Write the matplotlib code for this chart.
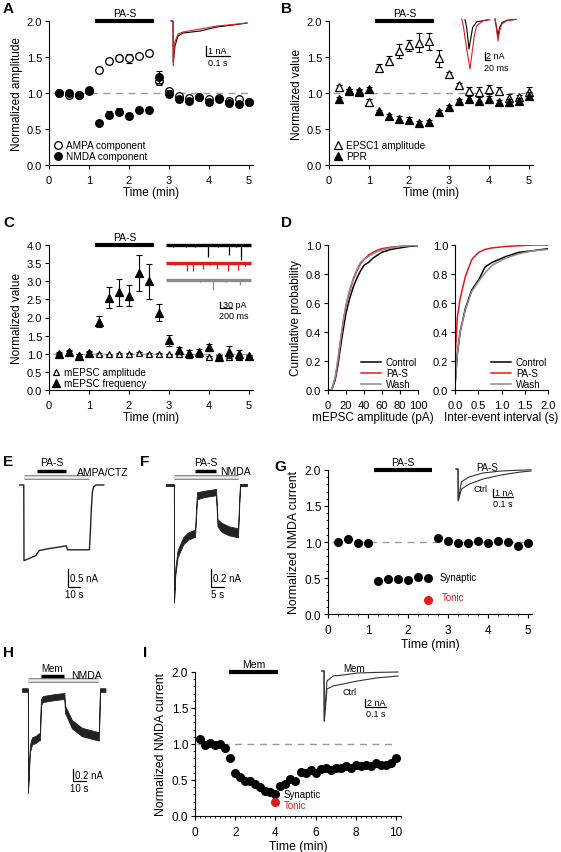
import matplotlib
matplotlib.use('Agg')
import matplotlib.pyplot as plt
from matplotlib.ticker import MultipleLocator, FormatStrFormatter

plt.rcParams['font.family'] = ['Liberation Sans', 'DejaVu Sans']
plt.rcParams['axes.linewidth'] = 0.8

W, H = 561, 853
RED = '#e31a1c'
GREY = '#8c8c8c'
TICK_FS = 8
LAB_FS = 8.5

# ---------------- data ----------------
t_min = [0.25, 0.5, 0.75, 1.0, 1.25, 1.5, 1.75, 2.0, 2.25, 2.5,
         2.75, 3.0, 3.25, 3.5, 3.75, 4.0, 4.25, 4.5, 4.75, 5.0]
pas_period = [1.15, 2.62]

# A
ampa_A = [1.00, 0.97, 0.97, 1.03, 1.32, 1.44, 1.49, 1.48, 1.51, 1.55,
          1.16, 1.03, 0.96, 0.93, 0.95, 0.91, 0.93, 0.89, 0.91, 0.88]
ampa_A_err = [0.02, 0.03, 0.03, 0.02, 0.04, 0.04, 0.04, 0.06, 0.03, 0.03,
              0.05, 0.04, 0.03, 0.02, 0.02, 0.02, 0.02, 0.03, 0.02, 0.02]
nmda_A = [1.00, 1.00, 0.97, 1.04, 0.59, 0.70, 0.74, 0.68, 0.76, 0.76,
          1.22, 0.99, 0.91, 0.89, 0.94, 0.87, 0.92, 0.86, 0.85, 0.88]
nmda_A_err = [0.02, 0.03, 0.03, 0.03, 0.02, 0.05, 0.05, 0.04, 0.03, 0.03,
              0.08, 0.05, 0.03, 0.03, 0.03, 0.03, 0.03, 0.03, 0.03, 0.02]
# A inset (s, nA)
insA_t = [-0.008, 0.0, 0.001, 0.008, 0.021, 0.042, 0.113, 0.183, 0.25, 0.308]
insA_ctrl = [0.0, 0.0, -4.1, -2.5, -1.5, -1.2, -1.0, -0.6, -0.4, -0.2]
insA_pas = [0.0, 0.0, -4.5, -2.1, -1.3, -1.1, -0.8, -0.5, -0.35, -0.2]

# B
epsc1_B = [1.08, 1.03, 1.02, 0.88, 1.35, 1.45, 1.58, 1.66, 1.70, 1.72,
           1.48, 1.26, 1.11, 1.03, 1.02, 1.05, 1.03, 0.93, 0.94, 1.01]
epsc1_B_err = [0.03, 0.02, 0.02, 0.04, 0.05, 0.06, 0.10, 0.08, 0.13, 0.12,
               0.12, 0.03, 0.03, 0.06, 0.07, 0.06, 0.06, 0.05, 0.03, 0.08]
ppr_B = [0.91, 1.04, 1.03, 1.05, 0.75, 0.68, 0.64, 0.63, 0.59, 0.60,
         0.74, 0.80, 0.89, 0.92, 0.89, 0.91, 0.87, 0.87, 0.89, 0.96]
ppr_B_err = [0.03, 0.02, 0.02, 0.03, 0.02, 0.03, 0.04, 0.03, 0.02, 0.03,
             0.02, 0.03, 0.03, 0.04, 0.06, 0.05, 0.03, 0.05, 0.04, 0.05]
# B inset (ms, nA): two EPSCs per sweep
insB_t1_pas = [-1.3, 5.3, 18.7, 32, 38.7, 49, 58.7, 85, 112]
insB_i1_pas = [0.0, -1.7, -7.5, -12.5, -9.2, -4.2, -1.7, -0.4, -0.2]
insB_t1_ctrl = [12, 18.7, 28, 34.7, 42.7, 58.7, 105]
insB_i1_ctrl = [-0.2, -2.1, -7.5, -5.0, -2.1, -0.7, -0.2]
insB_t2 = [132, 138, 144, 150, 160, 180, 216]
insB_i2_pas = [0.0, -2.5, -5.5, -3.0, -1.2, -0.4, -0.1]
insB_i2_ctrl = [0.0, -2.0, -4.25, -2.2, -0.9, -0.3, -0.1]

# C
amp_C = [1.00, 1.05, 0.97, 1.02, 0.99, 0.98, 0.99, 1.00, 1.02, 0.99,
         1.00, 0.98, 0.99, 0.97, 1.00, 0.90, 0.93, 0.92, 0.92, 0.93]
amp_C_err = [0.02, 0.02, 0.02, 0.02, 0.02, 0.02, 0.02, 0.02, 0.02, 0.02,
             0.02, 0.02, 0.02, 0.02, 0.02, 0.03, 0.02, 0.02, 0.03, 0.02]
freq_C = [1.00, 1.06, 0.95, 1.03, 1.88, 2.55, 2.70, 2.60, 3.22, 3.00,
          2.13, 1.37, 1.10, 1.03, 1.06, 1.18, 0.92, 1.05, 0.98, 0.93]
freq_C_err = [0.04, 0.03, 0.04, 0.05, 0.15, 0.30, 0.37, 0.29, 0.50, 0.48,
              0.24, 0.16, 0.08, 0.07, 0.07, 0.10, 0.05, 0.17, 0.12, 0.04]
# C inset: mEPSC events (ms, pA)
sweep_C = [0, 1420]
ev_ctrl_t = [120, 330, 480, 705, 860, 1055, 1160, 1250]
ev_ctrl_a = [8, 10, 8, 60, 10, 50, 8, 75]
ev_pas_t = [150, 350, 450, 620, 740, 850, 1035, 1200, 1320]
ev_pas_a = [10, 40, 40, 30, 12, 30, 40, 35, 15]
ev_wash_t = [300, 560, 785, 1000, 1235]
ev_wash_a = [6, 8, 50, 8, 25]

# D
amp_x = [0, 4, 8, 11, 14, 17, 20, 24, 28, 32, 36, 40, 45, 50, 55, 60, 70, 80, 90, 100]
cdf_amp_ctrl = [0, 0, 0.07, 0.17, 0.30, 0.42, 0.53, 0.63, 0.71, 0.77, 0.82, 0.86,
                0.88, 0.91, 0.93, 0.95, 0.97, 0.98, 0.99, 0.995]
cdf_amp_pas = [0, 0, 0.08, 0.20, 0.34, 0.47, 0.58, 0.68, 0.76, 0.82, 0.87, 0.90,
               0.93, 0.95, 0.965, 0.975, 0.985, 0.99, 0.995, 1.0]
cdf_amp_wash = [0, 0, 0.09, 0.21, 0.35, 0.48, 0.59, 0.69, 0.77, 0.83, 0.88, 0.90,
                0.92, 0.94, 0.955, 0.965, 0.98, 0.99, 0.995, 0.998]
iei_x = [0.0, 0.05, 0.11, 0.22, 0.36, 0.51, 0.65, 0.80, 1.09, 1.38, 1.67, 2.0]
cdf_iei_ctrl = [0.03, 0.25, 0.40, 0.56, 0.69, 0.76, 0.85, 0.88, 0.92, 0.95, 0.96, 0.975]
cdf_iei_pas = [0.21, 0.50, 0.63, 0.78, 0.90, 0.95, 0.97, 0.98, 0.99, 0.995, 1.0, 1.0]
cdf_iei_wash = [0.03, 0.24, 0.40, 0.55, 0.68, 0.75, 0.81, 0.86, 0.91, 0.94, 0.96, 0.97]

# E (s, nA)
e_ampa_period = [0.0, 54.5]
e_pas_period = [10.8, 35.0]
e_t = [-3.6, -0.2, 0.0, 3.0, 9.8, 11.0, 12.8, 20.0, 30.0, 35.2, 36.3, 40.0, 54.5,
       55.3, 56.2, 57.0, 58.0, 60.0, 66.5]
e_i = [0.0, 0.0, -2.10, -2.06, -1.96, -1.90, -1.82, -1.77, -1.72, -1.69, -1.80, -1.80,
       -1.80, -1.30, -0.60, -0.20, -0.05, 0.0, 0.0]

# F (s, nA) noisy trace envelope
f_nmda_period = [0.0, 25.6]
f_pas_period = [8.4, 16.8]
f_t = [-3.2, -0.05, 0.0, 0.5, 1.4, 2.3, 3.7, 5.5, 8.0, 8.4, 9.2, 12.0, 16.6, 16.8,
       17.4, 19.0, 22.0, 25.4, 25.6, 26.4, 29.2]
f_upper = [0.012, 0.012, -1.29, -0.93, -0.73, -0.67, -0.58, -0.53, -0.50, -0.50,
           -0.08, -0.065, -0.045, -0.045, -0.38, -0.42, -0.46, -0.48, -0.48, 0.012, 0.012]
f_lower = [-0.012, -0.012, -1.31, -1.01, -0.81, -0.75, -0.66, -0.61, -0.58, -0.58,
           -0.16, -0.135, -0.115, -0.115, -0.46, -0.52, -0.56, -0.58, -0.58, -0.012, -0.012]

# G
g_t_ctrl = [0.25, 0.5, 0.75, 1.0]
g_ctrl = [1.00, 1.04, 0.98, 0.99]
g_t_syn = [1.25, 1.5, 1.75, 2.0, 2.25, 2.5]
g_syn = [0.46, 0.49, 0.49, 0.47, 0.51, 0.50]
g_t_wash = [2.75, 3.0, 3.25, 3.5, 3.75, 4.0, 4.25, 4.5, 4.75, 5.0]
g_wash = [1.06, 1.02, 0.98, 0.99, 1.01, 0.98, 1.01, 1.00, 0.95, 0.99]
g_wash_err = [0.03, 0.02, 0.01, 0.01, 0.01, 0.01, 0.01, 0.01, 0.02, 0.01]
g_tonic = [2.5, 0.19]
g_pas_period = [1.15, 2.6]
insG_t = [-0.01, 0.0, 0.001, 0.0175, 0.055, 0.125, 0.215, 0.305, 0.365]
insG_ctrl = [0.0, 0.0, -4.0, -2.5, -1.9, -1.25, -0.75, -0.4, -0.25]
insG_pas = [0.0, 0.0, -3.9, -1.6, -1.0, -0.5, -0.25, -0.15, -0.1]

# H (s, nA)
h_nmda_period = [0.0, 53.8]
h_mem_period = [10.0, 27.7]
h_t = [-4.6, -0.05, 0.0, 1.5, 3.1, 6.2, 8.5, 9.2, 10.0, 11.5, 20.0, 27.7, 28.0,
       28.5, 33.8, 41.5, 53.8, 54.6, 55.4, 59.6]
h_upper = [0.03, 0.03, -1.68, -0.92, -0.79, -0.76, -0.72, -0.72, -0.15, -0.10, -0.07,
           -0.05, -0.05, -0.26, -0.50, -0.63, -0.70, -0.70, 0.03, 0.03]
h_lower = [-0.03, -0.03, -1.72, -1.04, -0.91, -0.88, -0.84, -0.84, -0.25, -0.20, -0.17,
           -0.15, -0.15, -0.38, -0.64, -0.77, -0.84, -0.84, -0.03, -0.03]

# I
i_t = [0.25, 0.5, 0.75, 1.0, 1.25, 1.5, 1.75, 2.0, 2.25, 2.5, 2.75, 3.0, 3.25, 3.5,
       3.75, 4.0, 4.25, 4.5, 4.75, 5.0, 5.25, 5.5, 5.75, 6.0, 6.25, 6.5, 6.75, 7.0,
       7.25, 7.5, 7.75, 8.0, 8.25, 8.5, 8.75, 9.0, 9.25, 9.5, 9.75, 10.0]
i_val = [1.07, 0.99, 1.01, 0.98, 1.00, 0.95, 0.80, 0.60, 0.54, 0.49, 0.48, 0.45,
         0.40, 0.35, 0.34, 0.30, 0.41, 0.44, 0.51, 0.49, 0.61, 0.60, 0.64, 0.60,
         0.65, 0.66, 0.64, 0.66, 0.67, 0.70, 0.67, 0.71, 0.70, 0.71, 0.69, 0.73,
         0.71, 0.71, 0.73, 0.80]
i_tonic = [4.0, 0.20]
i_mem_period = [1.7, 4.15]
insI_t = [-0.01, 0.0, 0.001, 0.014, 0.043, 0.09, 0.16, 0.248, 0.352]
insI_ctrl = [0.0, 0.0, -12.5, -4.5, -3.75, -3.25, -2.5, -1.75, -1.25]
insI_mem = [0.0, 0.0, -12.5, -2.5, -1.25, -1.0, -0.5, -0.35, -0.25]

# ---------------- helpers ----------------
fig = plt.figure(figsize=(W / 100, H / 100), dpi=100)


def box(l, t, r, b):
    return [l / W, 1 - b / H, (r - l) / W, (b - t) / H]


def main_axes(rect, xlim, ylim, xmaj, ymaj, xfmt, yfmt, fs=TICK_FS):
    ax = fig.add_axes(box(*rect))
    ax.set_xlim(xlim)
    ax.set_ylim(ylim)
    for s in ['top', 'right']:
        ax.spines[s].set_visible(False)
    ax.xaxis.set_major_locator(MultipleLocator(xmaj))
    ax.yaxis.set_major_locator(MultipleLocator(ymaj))
    ax.xaxis.set_major_formatter(FormatStrFormatter(xfmt))
    ax.yaxis.set_major_formatter(FormatStrFormatter(yfmt))
    ax.tick_params(labelsize=fs, length=3, width=0.8, pad=2)
    ax.tick_params(axis='x', pad=4)
    return ax


def inset(rect, xlim, ylim):
    ax = fig.add_axes(box(*rect))
    ax.set_xlim(xlim)
    ax.set_ylim(ylim)
    ax.axis('off')
    return ax


def stim_bar(ax, period, y, label, fs=7.5, lw=3):
    ax.plot(period, [y, y], color='k', lw=lw, solid_capstyle='butt', clip_on=False)
    ax.annotate(label, ((period[0] + period[1]) / 2, y), xytext=(0, 2.5),
                textcoords='offset points', ha='center', va='bottom', fontsize=fs)


def scalebar(ax, x0, y0, dx, dy, xl, yl, fs=6.5):
    ax.plot([x0, x0, x0 + dx], [y0 + dy, y0, y0], color='k', lw=0.9,
            solid_joinstyle='miter', clip_on=False)
    ax.annotate(yl, (x0, y0 + dy / 2), xytext=(1.5, 0), textcoords='offset points',
                ha='left', va='center', fontsize=fs)
    ax.annotate(xl, (x0 + dx / 2, y0), xytext=(0, -1.5), textcoords='offset points',
                ha='center', va='top', fontsize=fs)


def dashed_one(ax, x1):
    ax.plot([0.1, x1], [1, 1], color='0.6', lw=1, ls=(0, (5, 4)), zorder=1)


def letter(x, y, s):
    fig.text(x / W, 1 - y / H, s, fontsize=11, fontweight='bold', va='center', ha='left')


def errpts(ax, x, y, e, marker, filled, ms, label, z):
    ax.errorbar(x, y, yerr=e, fmt='none', ecolor='k', elinewidth=0.8, capsize=2,
                capthick=0.8, zorder=z)
    ax.plot(x, y, marker, ms=ms, mec='k', mew=0.9,
            mfc='k' if filled else 'white', ls='none', label=label, zorder=z + 0.5)


def legend_pts(ax):
    ax.legend(loc='lower left', frameon=False, fontsize=7.2, handlelength=0.9,
              handletextpad=0.4, labelspacing=0.1, borderpad=0.0, borderaxespad=0.4)


# ---------------- A ----------------
letter(3, 9, 'A')
axA = main_axes((49, 22, 253, 166), (0, 5.1), (0, 2.0), 1, 0.5, '%d', '%.1f')
dashed_one(axA, 5.0)
errpts(axA, t_min, ampa_A, ampa_A_err, 'o', False, 5.5, 'AMPA component', 3)
errpts(axA, t_min, nmda_A, nmda_A_err, 'o', True, 5.5, 'NMDA component', 4)
stim_bar(axA, pas_period, 2.0, 'PA-S')
axA.set_xlabel('Time (min)', fontsize=LAB_FS, labelpad=1)
axA.set_ylabel('Normalized amplitude', fontsize=LAB_FS, labelpad=3)
legend_pts(axA)
iA = inset((165, 15, 252, 72), (-0.0333, 0.329), (-5.0, 0.7))
iA.plot(insA_t, insA_ctrl, color='k', lw=0.8)
iA.plot(insA_t, insA_pas, color=RED, lw=0.8)
scalebar(iA, 0.1375, -3.5, 0.1, 1.0, '0.1 s', '1 nA')

# ---------------- B ----------------
letter(281, 9, 'B')
axB = main_axes((329, 22, 533, 166), (0, 5.1), (0, 2.0), 1, 0.5, '%d', '%.1f')
dashed_one(axB, 5.0)
errpts(axB, t_min, epsc1_B, epsc1_B_err, '^', False, 5.5, 'EPSC1 amplitude', 3)
errpts(axB, t_min, ppr_B, ppr_B_err, '^', True, 5.5, 'PPR', 4)
stim_bar(axB, pas_period, 2.0, 'PA-S')
axB.set_xlabel('Time (min)', fontsize=LAB_FS, labelpad=1)
axB.set_ylabel('Normalized value', fontsize=LAB_FS, labelpad=3)
legend_pts(axB)
iB = inset((455, 15, 520, 75), (-28, 232), (-13.75, 1.25))
iB.plot(insB_t1_ctrl, insB_i1_ctrl, color='k', lw=0.8)
iB.plot(insB_t1_pas, insB_i1_pas, color=RED, lw=0.8)
iB.plot(insB_t2, insB_i2_ctrl, color='k', lw=0.8)
iB.plot(insB_t2, insB_i2_pas, color=RED, lw=0.8)
iB.plot([92, 92, 112], [-8.25, -10.25, -10.25], color='k', lw=0.9)
iB.text(95, -9.2, '2 nA', fontsize=6.5, ha='left', va='center')
iB.text(88, -10.9, '20 ms', fontsize=6.5, ha='left', va='top')

# ---------------- C ----------------
letter(3, 223, 'C')
axC = main_axes((49, 246, 253, 391), (0, 5.1), (0, 4.0), 1, 0.5, '%d', '%.1f')
dashed_one(axC, 5.0)
errpts(axC, t_min, amp_C, amp_C_err, '^', False, 5.0, 'mEPSC amplitude', 3)
errpts(axC, t_min, freq_C, freq_C_err, '^', True, 5.5, 'mEPSC frequency', 4)
stim_bar(axC, pas_period, 4.0, 'PA-S')
axC.set_xlabel('Time (min)', fontsize=LAB_FS, labelpad=1)
axC.set_ylabel('Normalized value', fontsize=LAB_FS, labelpad=3)
axC.legend(loc='lower left', frameon=False, fontsize=7.2, handlelength=0.9,
           handletextpad=0.4, labelspacing=0.05, borderpad=0.0, borderaxespad=0.2)
iC = inset((160, 235, 255, 325), (-100, 1483), (-395, 55))
for evt, eva, off, col in [(ev_ctrl_t, ev_ctrl_a, 0, 'k'),
                           (ev_pas_t, ev_pas_a, -90, RED),
                           (ev_wash_t, ev_wash_a, -175, GREY)]:
    iC.plot(sweep_C, [off, off], color=col, lw=2.4, solid_capstyle='butt')
    iC.vlines(evt, [off] * len(evt), [off - a for a in eva], color=col, lw=0.9)
iC.plot([900, 900, 1100], [-285, -315, -315], color='k', lw=0.9)
iC.text(950, -300, '30 pA', fontsize=6.5, ha='left', va='center')
iC.text(880, -330, '200 ms', fontsize=6.5, ha='left', va='top')

# ---------------- D ----------------
letter(281, 223, 'D')
axD1 = main_axes((328, 246, 418, 391), (0, 100), (0, 1.0), 20, 0.2, '%d', '%.1f')
axD1.plot(amp_x, cdf_amp_ctrl, color='k', lw=1.1, label='Control')
axD1.plot(amp_x, cdf_amp_pas, color=RED, lw=1.1, label='PA-S')
axD1.plot(amp_x, cdf_amp_wash, color=GREY, lw=1.1, label='Wash')
axD1.set_xlabel('mEPSC amplitude (pA)', fontsize=LAB_FS, labelpad=1)
axD1.set_ylabel('Cumulative probability', fontsize=LAB_FS, labelpad=3)
axD2 = main_axes((455, 246, 548, 391), (0, 2.0), (0, 1.0), 0.5, 0.2, '%.1f', '%.1f')
axD2.plot(iei_x, cdf_iei_ctrl, color='k', lw=1.1, label='Control')
axD2.plot(iei_x, cdf_iei_pas, color=RED, lw=1.1, label='PA-S')
axD2.plot(iei_x, cdf_iei_wash, color=GREY, lw=1.1, label='Wash')
axD2.set_xlabel('Inter-event interval (s)', fontsize=LAB_FS, labelpad=1)
for ax in (axD1, axD2):
    ax.legend(loc='lower right', frameon=False, fontsize=7, handlelength=2.0,
              handletextpad=0.5, labelspacing=0.1, borderpad=0.0, borderaxespad=0.1)

# ---------------- E ----------------
letter(3, 462, 'E')
iE = inset((10, 455, 120, 610), (-11.67, 80), (-3.444, 0.861))
iE.plot(e_ampa_period, [0.222, 0.222], color='0.55', lw=3.6, solid_capstyle='butt')
iE.plot(e_ampa_period, [0.222, 0.222], color='0.93', lw=1.8, solid_capstyle='butt')
stim_bar(iE, e_pas_period, 0.39, 'PA-S', fs=7.5, lw=2.5)
iE.text(44, 0.22, 'AMPA/CTZ', fontsize=7.5, ha='left', va='bottom')
iE.plot(e_t, e_i, color='#222222', lw=1.0)
scalebar(iE, 36.7, -2.83, 10, 0.5, '10 s', '0.5 nA', fs=7)

# ---------------- F ----------------
letter(140, 462, 'F')
iF = inset((150, 455, 260, 610), (-9.6, 34.4), (-1.378, 0.344))
iF.plot(f_nmda_period, [0.089, 0.089], color='0.55', lw=3.6, solid_capstyle='butt')
iF.plot(f_nmda_period, [0.089, 0.089], color='0.93', lw=1.8, solid_capstyle='butt')
stim_bar(iF, f_pas_period, 0.156, 'PA-S', fs=7.5, lw=2.5)
iF.text(18.5, 0.095, 'NMDA', fontsize=7.5, ha='left', va='bottom')
iF.fill_between(f_t, f_lower, f_upper, color='#222222', lw=0.6)
scalebar(iF, 14.8, -1.133, 5, 0.2, '5 s', '0.2 nA', fs=7)

# ---------------- G ----------------
letter(274, 467, 'G')
axG = main_axes((328, 471, 532, 615), (0, 5.1), (0, 2.0), 1, 0.5, '%d', '%.1f', fs=8.5)
axG.xaxis.set_minor_locator(MultipleLocator(0.25))
axG.yaxis.set_minor_locator(MultipleLocator(0.1))
axG.tick_params(which='minor', length=1.5, width=0.6)
axG.plot([0.1, 5.0], [1, 1], color='0.6', lw=1, ls=(0, (5, 4)), zorder=1)
axG.plot(g_t_ctrl, g_ctrl, 'o', color='k', ms=5.5, zorder=4)
axG.plot(g_t_syn, g_syn, 'o', color='k', ms=5.5, zorder=4)
axG.errorbar(g_t_wash, g_wash, yerr=g_wash_err, fmt='o', color='k', ms=5.5,
             elinewidth=0.8, capsize=2, zorder=4)
axG.plot([g_tonic[0]], [g_tonic[1]], 'o', color=RED, ms=5.5, zorder=5)
axG.text(2.78, 0.51, 'Synaptic', fontsize=7, ha='left', va='center')
axG.text(2.85, 0.24, 'Tonic', fontsize=7, ha='left', va='center', color=RED)
stim_bar(axG, g_pas_period, 2.0, 'PA-S')
axG.set_xlabel('Time (min)', fontsize=8.8, labelpad=1.5)
axG.set_ylabel('Normalized NMDA current', fontsize=8.8, labelpad=3)
iG = inset((450, 462, 535, 512), (-0.04, 0.385), (-5.25, 1.0))
iG.plot(insG_t, insG_ctrl, color='#333333', lw=0.8)
iG.plot(insG_t, insG_pas, color='#333333', lw=0.8)
iG.text(0.09, 0.25, 'PA-S', fontsize=7, ha='left', va='center')
iG.text(0.08, -2.4, 'Ctrl', fontsize=6.5, ha='left', va='center')
scalebar(iG, 0.175, -3.5, 0.1, 1.0, '0.1 s', '1 nA')

# ---------------- H ----------------
letter(3, 653, 'H')
iH = inset((10, 660, 120, 800), (-13.8, 70.8), (-1.817, 0.517))
iH.plot(h_nmda_period, [0.167, 0.167], color='0.55', lw=3.6, solid_capstyle='butt')
iH.plot(h_nmda_period, [0.167, 0.167], color='0.93', lw=1.8, solid_capstyle='butt')
stim_bar(iH, h_mem_period, 0.233, 'Mem', fs=7, lw=2.5)
iH.text(33.0, 0.17, 'NMDA', fontsize=7.5, ha='left', va='bottom')
iH.fill_between(h_t, h_lower, h_upper, color='#222222', lw=0.6)
scalebar(iH, 34.6, -1.517, 10, 0.2, '10 s', '0.2 nA', fs=7)

# ---------------- I ----------------
letter(143, 653, 'I')
axI = main_axes((195, 673, 401, 817), (0, 10.25), (0, 2.0), 2, 0.5, '%d', '%.1f', fs=8.5)
axI.xaxis.set_minor_locator(MultipleLocator(0.25))
axI.yaxis.set_minor_locator(MultipleLocator(0.1))
axI.tick_params(which='minor', length=1.5, width=0.6)
axI.plot([0.1, 10.0], [1, 1], color='0.6', lw=1, ls=(0, (5, 4)), zorder=1)
axI.plot(i_t, i_val, 'o', color='k', ms=5.5, zorder=4)
axI.plot([i_tonic[0]], [i_tonic[1]], 'o', color=RED, ms=5.5, zorder=5)
axI.text(4.43, 0.30, 'Synaptic', fontsize=7, ha='left', va='center')
axI.text(4.43, 0.15, 'Tonic', fontsize=7, ha='left', va='center', color=RED)
stim_bar(axI, i_mem_period, 2.0, 'Mem')
axI.set_xlabel('Time (min)', fontsize=8.8, labelpad=1.5)
axI.set_ylabel('Normalized NMDA current', fontsize=8.8, labelpad=3)
iI = inset((315, 662, 402, 727), (-0.043, 0.371), (-13.75, 2.5))
iI.plot(insI_t, insI_ctrl, color='#333333', lw=0.8)
iI.plot(insI_t, insI_mem, color='#333333', lw=0.8)
iI.text(0.09, 0.75, 'Mem', fontsize=7, ha='left', va='center')
iI.text(0.09, -5.25, 'Ctrl', fontsize=6.5, ha='left', va='center')
scalebar(iI, 0.195, -9.0, 0.1, 2.0, '0.1 s', '2 nA')

fig.savefig('out.png', dpi=100)
